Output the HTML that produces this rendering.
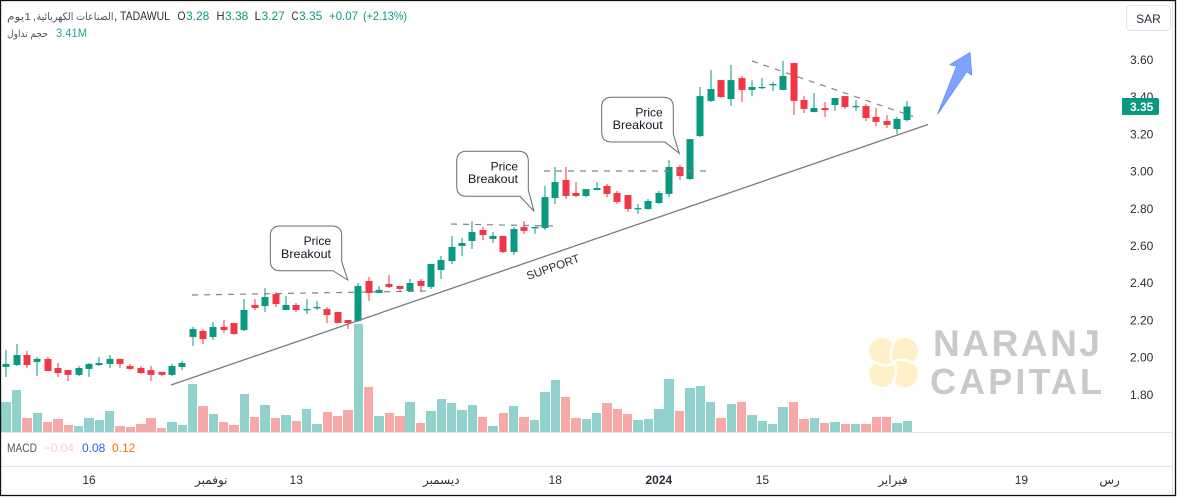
<!DOCTYPE html>
<html lang="en">
<head>
<meta charset="utf-8">
<title>Naranj Capital chart</title>
<style>
html,body{margin:0;padding:0;background:#fff;width:1177px;height:497px;overflow:hidden}
svg{display:block;font-family:"Liberation Sans","DejaVu Sans",sans-serif}
</style>
</head>
<body>
<svg id="chart" width="1177" height="497" viewBox="0 0 1177 497" xmlns="http://www.w3.org/2000/svg">
<defs><clipPath id="timeClip"><rect x="0" y="467" width="1121" height="28"/></clipPath></defs>
<rect x="0" y="0" width="1177" height="497" fill="#ffffff"/>

<g>
<g transform="translate(893.5 362.5)">
<g fill="#fff0c8">
<circle cx="-11.500" cy="-11.500" r="13"/>
<circle cx="11.500" cy="-11.500" r="13"/>
<circle cx="-11.500" cy="11.500" r="13"/>
<circle cx="11.500" cy="11.500" r="13"/>
<rect x="-12" y="-12" width="24" height="24"/>
</g>
<g fill="none" stroke="#ffffff" stroke-width="2.500" stroke-linecap="round">
<path d="M0,0 C-5,-5 -3,-14 3,-25"/>
<path transform="rotate(90)" d="M0,0 C-5,-5 -3,-14 3,-25"/>
<path transform="rotate(180)" d="M0,0 C-5,-5 -3,-14 3,-25"/>
<path transform="rotate(270)" d="M0,0 C-5,-5 -3,-14 3,-25"/>
</g>
</g>
<text x="933" y="356" font-size="37" font-weight="700" fill="#c9c9c9" textLength="167" lengthAdjust="spacing">NARANJ</text>
<text x="930" y="394" font-size="36" font-weight="700" fill="#c9c9c9" textLength="172" lengthAdjust="spacing">CAPITAL</text>
</g>

<g id="volumes"></g>
<g id="candles"></g>

<g>
<line x1="171" y1="385" x2="928" y2="124.500" stroke="#787b86" stroke-width="1.300"/>
<line x1="192" y1="295" x2="429" y2="291" stroke="#808390" stroke-width="1.200" stroke-dasharray="6 6"/>
<line x1="451" y1="224" x2="555" y2="226" stroke="#808390" stroke-width="1.200" stroke-dasharray="6 6"/>
<line x1="544" y1="171" x2="710" y2="171" stroke="#808390" stroke-width="1.200" stroke-dasharray="6 6"/>
<line x1="752" y1="61" x2="913" y2="116.500" stroke="#808390" stroke-width="1.200" stroke-dasharray="6 6"/>

<g>
<path d="M280.300,226 H331.700 Q341.700,226 341.700,236 V261.700 L347.700,280 L333,270.700 H280.300 Q270.300,270.700 270.300,260.700 V236 Q270.300,226 280.300,226Z" fill="#ffffff" stroke="#666a75" stroke-width="1"/>
<text x="331" y="245" text-anchor="end" font-size="12" fill="#131722">Price</text>
<text x="331" y="258" text-anchor="end" font-size="12" fill="#131722" textLength="50" lengthAdjust="spacingAndGlyphs">Breakout</text>
</g>
<g>
<path d="M466.700,151.300 H518.300 Q528.300,151.300 528.300,161.300 V190 L534,211.300 L520,196.300 H466.700 Q456.700,196.300 456.700,186.300 V161.300 Q456.700,151.300 466.700,151.300Z" fill="#ffffff" stroke="#666a75" stroke-width="1"/>
<text x="518" y="170.500" text-anchor="end" font-size="12" fill="#131722">Price</text>
<text x="518" y="183" text-anchor="end" font-size="12" fill="#131722" textLength="50" lengthAdjust="spacingAndGlyphs">Breakout</text>
</g>
<g>
<path d="M611.700,97.300 H663.300 Q673.300,97.300 673.300,107.300 V134 L679.300,153.300 L665,142 H611.700 Q601.700,142 601.700,132 V107.300 Q601.700,97.300 611.700,97.300Z" fill="#ffffff" stroke="#666a75" stroke-width="1"/>
<text x="662.700" y="116.500" text-anchor="end" font-size="12" fill="#131722">Price</text>
<text x="662.700" y="129" text-anchor="end" font-size="12" fill="#131722" textLength="50" lengthAdjust="spacingAndGlyphs">Breakout</text>
</g>
<text x="553" y="271" text-anchor="middle" font-size="11.500" fill="#2a2e39" transform="rotate(-19.500 553 267)">SUPPORT</text>
<path d="M937.700,114 L956.700,66 L950,64.700 L970,52.700 L971.700,75 L966.700,71.700 Z" fill="#7fa3ff" stroke="#6a90fa" stroke-width="1" stroke-linejoin="round"/>
</g>

<g font-size="12">
<text x="19" y="20" text-anchor="middle" font-size="10.500" direction="rtl" fill="#50535e" textLength="24" lengthAdjust="spacingAndGlyphs">1يوم</text>
<text x="33" y="20" fill="#50535e" font-size="11">,</text>
<text x="75" y="20" text-anchor="middle" font-size="10.500" direction="rtl" fill="#50535e" textLength="77" lengthAdjust="spacingAndGlyphs">الصناعات الكهربائية</text>
<text x="114" y="20" fill="#2a2e39">,</text>
<text x="120" y="20" fill="#2a2e39" textLength="50" lengthAdjust="spacingAndGlyphs">TADAWUL</text>
<text x="177.500" y="20" fill="#2a2e39" textLength="8" lengthAdjust="spacingAndGlyphs">O</text>
<text x="186" y="20" fill="#089981">3.28</text>
<text x="216.500" y="20" fill="#2a2e39" textLength="8" lengthAdjust="spacingAndGlyphs">H</text>
<text x="225" y="20" fill="#089981">3.38</text>
<text x="254.500" y="20" fill="#2a2e39">L</text>
<text x="261.500" y="20" fill="#089981">3.27</text>
<text x="291.500" y="20" fill="#2a2e39" textLength="7" lengthAdjust="spacingAndGlyphs">C</text>
<text x="299" y="20" fill="#089981">3.35</text>
<text x="329" y="20" fill="#089981" textLength="29" lengthAdjust="spacingAndGlyphs">+0.07</text>
<text x="363" y="20" fill="#089981" textLength="44" lengthAdjust="spacingAndGlyphs">(+2.13%)</text>
<text x="27.500" y="37" text-anchor="middle" font-size="10" direction="rtl" fill="#50535e" textLength="41" lengthAdjust="spacingAndGlyphs">حجم تداول</text>
<text x="56" y="37" font-size="12" fill="#26a69a" textLength="31" lengthAdjust="spacingAndGlyphs">3.41M</text>
</g>

<g font-size="12">
<text x="7" y="452" fill="#50535e" textLength="30" lengthAdjust="spacingAndGlyphs">MACD</text>
<text x="44" y="452" fill="#ffcdd2" textLength="30" lengthAdjust="spacingAndGlyphs">−0.04</text>
<text x="82" y="452" fill="#2962ff">0.08</text>
<text x="112" y="452" fill="#ff6d00">0.12</text>
</g>

<line x1="1" y1="432.500" x2="1173" y2="432.500" stroke="#e0e3eb" stroke-width="1"/>
<line x1="1" y1="466.500" x2="1173" y2="466.500" stroke="#e0e3eb" stroke-width="1"/>
<line x1="1172.500" y1="0" x2="1172.500" y2="495" stroke="#e0e3eb" stroke-width="1"/>

<g id="priceAxis" font-size="12" fill="#2a2e39"></g>
<g id="timeAxis" font-size="12" fill="#2a2e39" clip-path="url(#timeClip)"></g>

<g>
<path d="M1122,98 H1157 Q1159,98 1159,100 V113 Q1159,115 1157,115 H1122Z" fill="#089981"/>
<text id="lastPrice" x="1130" y="111" font-size="12" font-weight="700" fill="#ffffff">3.35</text>
</g>

<g>
<rect x="1126.500" y="5.500" width="44" height="25" rx="4" fill="#ffffff" stroke="#e0e3eb" stroke-width="1"/>
<text x="1148.500" y="23" text-anchor="middle" font-size="12" fill="#2a2e39">SAR</text>
</g>

<rect x="0.500" y="0.500" width="1175" height="495" fill="none" stroke="#111111" stroke-width="1.300"/>

<script>
var opens = [1.950,1.960,2.014,1.976,1.993,1.944,1.933,1.907,1.939,1.960,
1.966,1.993,1.955,1.944,1.933,1.923,1.907,1.950,2.111,2.143,
2.111,2.165,2.186,2.148,2.283,2.277,2.342,2.256,2.283,2.256,
2.267,2.261,2.245,2.202,2.197,2.412,2.347,2.396,2.385,2.358,
2.412,2.380,2.471,2.519,2.600,2.627,2.686,2.638,2.654,2.568,
2.702,2.697,2.697,2.858,2.955,2.885,2.869,2.901,2.923,2.885,
2.874,2.799,2.799,2.831,2.880,3.025,2.960,3.191,3.380,3.492,
3.390,3.503,3.439,3.449,3.466,3.439,3.584,3.385,3.320,3.342,
3.358,3.406,3.347,3.353,3.294,3.272,3.229,3.277];
var highs = [2.041,2.073,2.036,2.003,2.003,1.971,1.933,1.955,1.971,2.003,
2.014,1.993,1.966,1.955,1.955,1.923,1.966,1.982,2.165,2.154,
2.191,2.202,2.186,2.315,2.315,2.374,2.353,2.331,2.294,2.315,
2.304,2.272,2.245,2.202,2.401,2.433,2.385,2.444,2.385,2.423,
2.423,2.503,2.546,2.654,2.643,2.734,2.702,2.675,2.654,2.702,
2.734,2.702,2.923,3.025,3.025,2.944,2.906,2.944,2.933,2.896,
2.874,2.826,2.853,2.896,3.062,3.035,3.175,3.455,3.546,3.492,
3.573,3.514,3.492,3.503,3.482,3.595,3.584,3.406,3.423,3.374,
3.396,3.406,3.385,3.363,3.342,3.304,3.294,3.380];
var lows = [1.896,1.955,1.944,1.901,1.928,1.896,1.874,1.901,1.896,1.955,
1.944,1.944,1.933,1.912,1.874,1.901,1.901,1.933,2.062,2.073,
2.095,2.132,2.122,2.143,2.256,2.245,2.272,2.256,2.245,2.234,
2.256,2.186,2.186,2.154,2.191,2.304,2.347,2.374,2.353,2.353,
2.353,2.369,2.423,2.503,2.546,2.584,2.632,2.616,2.562,2.552,
2.665,2.665,2.686,2.826,2.853,2.863,2.863,2.901,2.863,2.826,
2.783,2.772,2.794,2.826,2.863,2.955,2.955,3.186,3.374,3.396,
3.353,3.374,3.406,3.444,3.433,3.439,3.304,3.315,3.320,3.294,
3.326,3.337,3.326,3.272,3.245,3.234,3.202,3.270];
var closes = [1.966,2.014,1.960,1.993,1.928,1.917,1.907,1.944,1.966,1.971,
1.993,1.966,1.939,1.917,1.907,1.907,1.955,1.971,2.154,2.100,
2.165,2.148,2.127,2.256,2.267,2.326,2.288,2.283,2.256,2.261,
2.272,2.229,2.186,2.186,2.385,2.347,2.364,2.380,2.369,2.401,
2.385,2.503,2.525,2.595,2.616,2.675,2.659,2.654,2.568,2.691,
2.681,2.702,2.863,2.944,2.869,2.869,2.906,2.912,2.880,2.837,
2.799,2.804,2.842,2.885,3.025,2.976,3.175,3.406,3.444,3.401,
3.492,3.439,3.455,3.455,3.471,3.514,3.380,3.337,3.342,3.331,
3.396,3.347,3.353,3.288,3.267,3.251,3.283,3.350];
var volumesM = [9.3,13.0,4.3,5.9,3.1,4.0,2.2,1.9,4.3,3.7,
6.5,1.9,1.6,2.5,4.3,1.2,3.1,2.2,14.9,8.1,
5.6,3.1,2.2,11.8,4.7,8.4,4.3,5.3,3.4,7.1,
2.5,6.2,5.0,6.8,33.5,14.0,5.0,5.9,5.0,9.3,
2.8,6.5,10.2,9.0,6.8,8.4,4.7,1.9,5.9,8.1,
4.7,3.7,12.4,16.1,10.9,4.3,4.0,5.9,9.0,7.1,
5.6,3.7,4.0,7.1,16.4,6.5,13.6,14.3,9.3,4.3,
8.7,9.3,5.3,3.4,2.5,7.8,9.3,4.0,4.3,2.8,
3.1,2.5,2.5,2.5,4.7,4.7,2.8,3.41];
var priceTicks = [3.60,3.40,3.20,3.00,2.80,2.60,2.40,2.20,2.00,1.80];
var timeLabels = ["16","نوفمبر","13","ديسمبر","18","2024","15","فبراير","19","مارس"];
var timeLabelBars = [8,19.8,28,42,53,63,73,85.6,98,107];
var boldTimeLabel = "2024";

var SVGNS = "http://www.w3.org/2000/svg";
function xScale(i){ return 6.15 + i * 10.36; }
function yScale(p){ return 60 + (3.6 - p) * 186; }
function volH(v){ return v * 3.226; }

var volG = document.getElementById("volumes");
var candleG = document.getElementById("candles");

volumesM.forEach(function(v, i){
  var up = closes[i] >= opens[i];
  var l = Math.round(xScale(i) - 4.7);
  var r = Math.round(xScale(i) + 4.7);
  var bar = document.createElementNS(SVGNS, "rect");
  
  
  bar.setAttribute("x", Math.max(l, 0));
  bar.setAttribute("y", 432 - volH(v));
  bar.setAttribute("width", r - Math.max(l, 0));
  bar.setAttribute("height", volH(v));
  bar.setAttribute("fill", up ? "#92d2cc" : "#f7a9a7");
  bar.setAttribute("shape-rendering", "crispEdges");
  volG.appendChild(bar);
});

opens.forEach(function(o, i){
  var c = closes[i];
  var color = c >= o ? "#089981" : "#f23645";
  var cx = Math.round(xScale(i));
  var wick = document.createElementNS(SVGNS, "rect");
  
  
  wick.setAttribute("x", cx - 0.5);
  wick.setAttribute("y", yScale(highs[i]));
  wick.setAttribute("width", 1);
  wick.setAttribute("height", yScale(lows[i]) - yScale(highs[i]));
  wick.setAttribute("fill", color);
  candleG.appendChild(wick);
  var top = yScale(Math.max(o, c));
  var h = Math.max(Math.abs(yScale(o) - yScale(c)), 1.3);
  var body = document.createElementNS(SVGNS, "rect");
  
  
  body.setAttribute("x", cx - 3.5);
  body.setAttribute("y", top);
  body.setAttribute("width", 7);
  body.setAttribute("height", h);
  body.setAttribute("fill", color);
  candleG.appendChild(body);
});

var priceG = document.getElementById("priceAxis");
priceTicks.forEach(function(p){
  var t = document.createElementNS(SVGNS, "text");
  
  
  t.setAttribute("x", 1130);
  t.setAttribute("y", yScale(p) + 4);
  t.textContent = p.toFixed(2);
  priceG.appendChild(t);
});

var timeG = document.getElementById("timeAxis");
timeLabels.forEach(function(label, i){
  var t = document.createElementNS(SVGNS, "text");
  
  
  t.setAttribute("x", xScale(timeLabelBars[i]));
  t.setAttribute("y", 484);
  t.setAttribute("text-anchor", "middle");
  if (label === boldTimeLabel) t.setAttribute("font-weight", "700");
  t.textContent = label;
  timeG.appendChild(t);
});
</script>
</svg>
</body>
</html>
